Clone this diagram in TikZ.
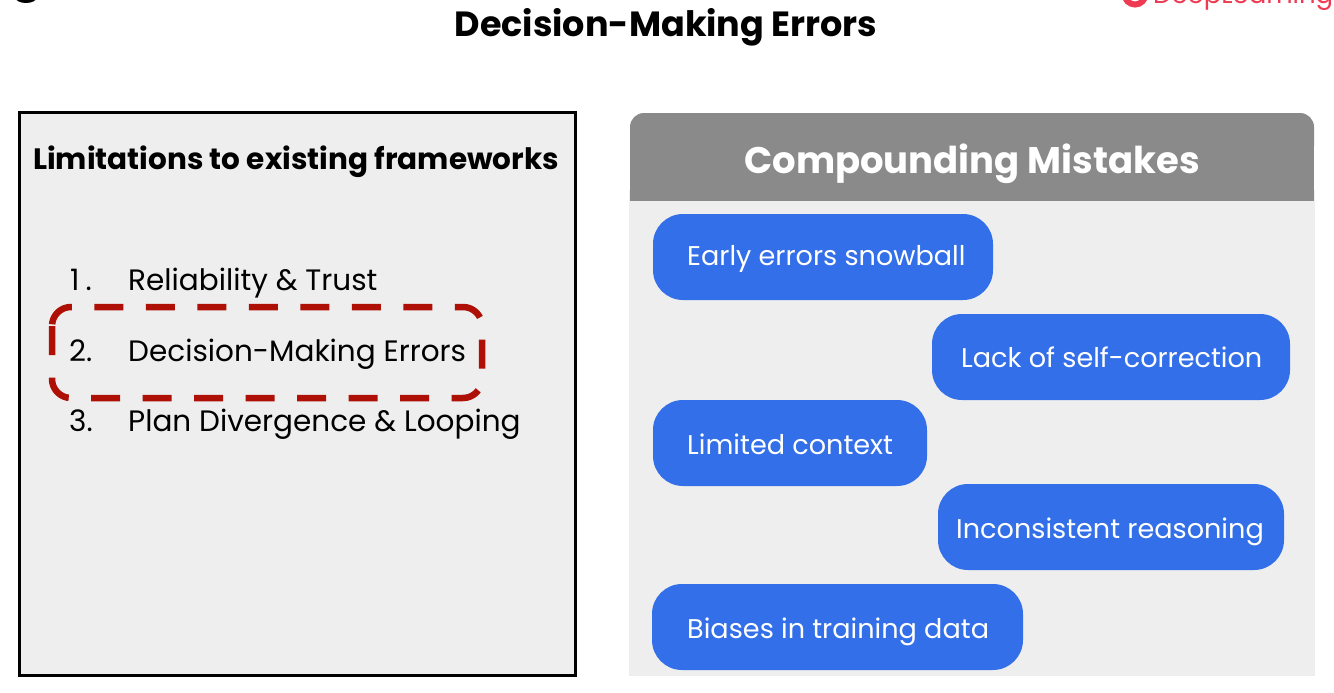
\documentclass[tikz,border=0pt]{standalone}
\usepackage{fontspec}
\setmainfont{Poppins}
\definecolor{panelgray}{HTML}{EEEEEE}
\definecolor{headgray}{HTML}{8A8A8A}
\definecolor{pillblue}{HTML}{326FE8}
\definecolor{dashred}{HTML}{AE1005}
\definecolor{logored}{HTML}{EE3A52}
\tikzset{
  pill/.style={fill=pillblue,rounded corners=30pt,draw=none},
  pilltext/.style={anchor=base west,inner sep=0pt,text=white,font=\fontsize{27.1}{32}\selectfont},
  itemtext/.style={anchor=base west,inner sep=0pt,text=black,font=\fontsize{29.5}{34}\selectfont},
  headtext/.style={anchor=base,inner sep=0pt,font=\fontsize{#1}{40}\selectfont\bfseries},
}
\begin{document}
\begin{tikzpicture}[x=1pt,y=-1pt]
\useasboundingbox (0,0) rectangle (1334,693);
\clip (0,0) rectangle (1334,693);
\fill[white] (0,0) rectangle (1334,693);
% cropped marks at the top edge
\fill[black] (26,-3) ellipse (11 and 6);
\draw[logored,line width=6pt] (1135,-6) circle (10.5);
\node[anchor=base west,inner sep=0pt,text=logored,font=\fontsize{26}{30}\selectfont] (logo) at (1153,4) {DeepLearning.AI};
% title
\node[headtext=35,text=black] (title) at (666,37) {Decision-Making Errors};
% left panel
\node[draw=black,line width=3pt,fill=panelgray,minimum width=556pt,minimum height=563pt,inner sep=0pt,anchor=north west] (left) at (18,111) {};
\node[headtext=29.5,text=black] (lefthead) at (296,169) {Limitations to existing frameworks};
\node[itemtext] (n1) at (70,290) {1\kern6pt.};
\node[itemtext] (t1) at (128,290) {Reliability \& Trust};
\node[itemtext] (n2) at (69,361) {2.};
\node[itemtext] (t2) at (128,361) {Decision-Making Errors};
\node[itemtext] (n3) at (69,431.5) {3.};
\node[itemtext] (t3) at (128,431.5) {Plan Divergence \& Looping};
\draw[dashred,line width=6.5pt,dash pattern=on 29pt off 22.5pt,rounded corners=19pt]
  (52,326) -- (52,398) -- (482,398) -- (482,307) -- (52,307) -- (52,322);
% right panel
\fill[panelgray] (629,190) rectangle (1315,676);
\fill[headgray,rounded corners=14pt] (630,113) rectangle (1314,160);
\fill[headgray] (630,140) rectangle (1314,201);
\node[headtext=37,text=white] (righthead) at (972,173) {Compounding Mistakes};
% pills
\fill[pill] (653,214) rectangle (993,300);
\node[pilltext] (p1) at (687,265) {Early errors snowball};
\fill[pill] (932,314) rectangle (1290,400);
\node[pilltext] (p2) at (961,367) {Lack of self-correction};
\fill[pill] (653,400) rectangle (927,486);
\node[pilltext] (p3) at (687,454) {Limited context};
\fill[pill] (938,484) rectangle (1284,570);
\node[pilltext] (p4) at (956,538) {Inconsistent reasoning};
\fill[pill] (652,584) rectangle (1023,670);
\node[pilltext] (p5) at (687,638) {Biases in training data};
\end{tikzpicture}
\end{document}
